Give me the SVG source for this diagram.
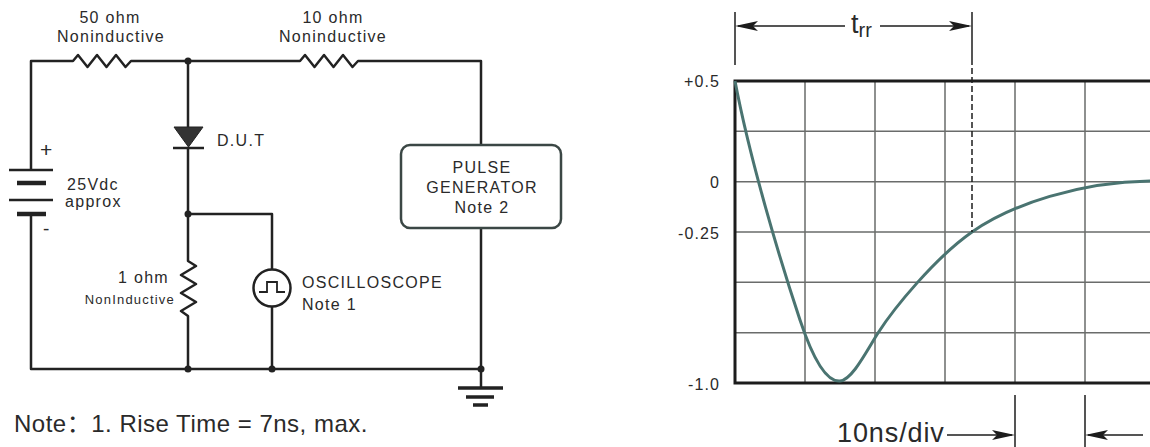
<svg xmlns="http://www.w3.org/2000/svg" width="1150" height="447" viewBox="0 0 1150 447">
<style>
  .w{fill:none;stroke:#222;stroke-width:2.5;stroke-linejoin:round;stroke-linecap:butt}
  .t{font-family:"Liberation Sans",Arial,"Noto Sans CJK SC",sans-serif;fill:#2a2a2a}
  .l15{font-size:16px;letter-spacing:1.3px}
  .l12{font-size:13px;letter-spacing:1.2px}
  .ax{font-size:16px;letter-spacing:1.1px}
  .grid{stroke:#6a6c6b;stroke-width:1.5;fill:none}
  .frame{stroke:#1c1c1c;stroke-width:3;fill:none}
  .thin{stroke:#1c1c1c;stroke-width:1.5;fill:none}
  .dot{fill:#222}
  .ah{fill:#1c1c1c}
</style>
<defs>
  <path id="arR" d="M0,0 L-23,-5 L-18,0 L-23,5 Z"/>
</defs>

<g id="connectors">
  <path class="w" d="M31,170 V61 H73 L78,55 L87.5,67 L97,55 L106.5,67 L116,55 L125.5,67 L131,61 H300 L305,55 L314.5,67 L324,55 L333.5,67 L343,55 L352.5,67 L358,61 H481 V145"/>
  <path class="w" d="M31,214 V369 H481"/>
  <path class="w" d="M481,228 V388"/>
  <path class="w" d="M188,61 V127"/>
  <path class="w" d="M188,147 V261 L196,266 L181,275 L196,284 L181,293 L196,302 L181,311 L188,316 V369"/>
  <path class="w" d="M188,214 H272 V269"/>
  <path class="w" d="M272,307 V369"/>
</g>

<g id="battery">
  <line x1="9" y1="170" x2="53" y2="170" stroke="#222" stroke-width="2.5"/>
  <line x1="17" y1="183" x2="46" y2="183" stroke="#222" stroke-width="4.5"/>
  <line x1="9" y1="200" x2="53" y2="200" stroke="#222" stroke-width="2.5"/>
  <line x1="17" y1="214" x2="46" y2="214" stroke="#222" stroke-width="4.5"/>
  <text class="t" x="40" y="157" font-size="21">+</text>
  <text class="t" x="43" y="235" font-size="19">-</text>
  <text class="t l15" x="67" y="190">25Vdc</text>
  <text class="t l15" x="65" y="207">approx</text>
</g>

<g id="r50">
  <text class="t l15" x="110" y="23" text-anchor="middle">50 ohm</text>
  <text class="t l15" x="111" y="42" text-anchor="middle">Noninductive</text>
</g>

<g id="r10">
  <text class="t l15" x="333" y="23" text-anchor="middle">10 ohm</text>
  <text class="t l15" x="333" y="42" text-anchor="middle">Noninductive</text>
</g>

<g id="dut">
  <path d="M174,127 L203,127 L188.5,147 Z" fill="#333" stroke="#222" stroke-width="1"/>
  <line x1="173" y1="148" x2="204" y2="148" stroke="#222" stroke-width="2.5"/>
  <text class="t l15" x="217" y="146">D.U.T</text>
</g>

<g id="r1">
  <text class="t l15" x="169" y="283" text-anchor="end">1 ohm</text>
  <text class="t l12" x="175" y="304" text-anchor="end">NonInductive</text>
</g>

<g id="oscilloscope">
  <circle cx="272" cy="288" r="18.5" fill="#fff" stroke="#222" stroke-width="2.5"/>
  <path d="M259,292 H267 V282 H277 V292 H285" fill="none" stroke="#222" stroke-width="1.8"/>
  <text class="t l15" x="302" y="288">OSCILLOSCOPE</text>
  <text class="t l15" x="302" y="310">Note 1</text>
</g>

<g id="pulse-generator">
  <rect x="401" y="145" width="160" height="83" rx="9" fill="#fff" stroke="#3b4745" stroke-width="2.5"/>
  <text class="t l15" x="482" y="173" text-anchor="middle">PULSE</text>
  <text class="t l15" x="482" y="193" text-anchor="middle">GENERATOR</text>
  <text class="t l15" x="482" y="213" text-anchor="middle">Note 2</text>
</g>

<g id="junctions">
  <circle class="dot" cx="188" cy="61" r="3.5"/>
  <circle class="dot" cx="188" cy="214" r="3.5"/>
  <circle class="dot" cx="188" cy="369" r="3.5"/>
  <circle class="dot" cx="272" cy="369" r="3.5"/>
  <circle class="dot" cx="481" cy="369" r="3.5"/>
</g>

<g id="ground">
  <line x1="458" y1="388" x2="503" y2="388" stroke="#222" stroke-width="3.5"/>
  <line x1="466" y1="397" x2="494" y2="397" stroke="#222" stroke-width="3.5"/>
  <line x1="473" y1="405" x2="488" y2="405" stroke="#222" stroke-width="3.5"/>
</g>

<g id="note">
  <text class="t" x="14" y="432" font-size="24" letter-spacing="0.5">Note：1. Rise Time = 7ns, max.</text>
</g>

<g id="graph">
  <g class="grid">
    <path d="M805,81 V383 M875,81 V383 M945,81 V383 M1015,81 V383 M1085,81 V383"/>
    <path d="M735,131.3 H1150 M735,181.7 H1150 M735,232 H1150 M735,282.3 H1150 M735,332.7 H1150"/>
  </g>
  <path class="frame" d="M1150,81 H735 V383 H1150"/>
  <path d="M735,81 C750,160 780,260 800,320 C815,365 828,382 840,381 C852,380 866,352 878,333 C894,308 935,258 972,232 C1012,204 1080,182 1150,181" fill="none" stroke="#4a7471" stroke-width="3"/>
  <text class="t ax" x="720" y="87" text-anchor="end">+0.5</text>
  <text class="t ax" x="720" y="188" text-anchor="end">0</text>
  <text class="t ax" x="720" y="239" text-anchor="end">-0.25</text>
  <text class="t ax" x="720" y="390" text-anchor="end">-1.0</text>
</g>

<g id="trr">
  <line class="thin" x1="735" y1="12" x2="735" y2="65"/>
  <line class="thin" x1="972" y1="12" x2="972" y2="65"/>
  <line x1="972" y1="68" x2="972" y2="232" stroke="#1c1c1c" stroke-width="1.5" stroke-dasharray="6,3"/>
  <line class="thin" x1="738" y1="26" x2="845" y2="26"/>
  <line class="thin" x1="880" y1="26" x2="969" y2="26"/>
  <use href="#arR" class="ah" transform="translate(735,26) rotate(180)"/>
  <use href="#arR" class="ah" transform="translate(972,26)"/>
  <text class="t" x="851" y="33" font-size="27">t<tspan font-size="20" dy="4">rr</tspan></text>
</g>

<g id="timebase">
  <line class="thin" x1="1015" y1="395" x2="1015" y2="447"/>
  <line class="thin" x1="1085" y1="395" x2="1085" y2="447"/>
  <line class="thin" x1="947" y1="435" x2="1012" y2="435"/>
  <line class="thin" x1="1088" y1="435" x2="1143" y2="435"/>
  <use href="#arR" class="ah" transform="translate(1015,435)"/>
  <use href="#arR" class="ah" transform="translate(1085,435) rotate(180)"/>
  <text class="t" x="837" y="442" font-size="27" letter-spacing="0.9">10ns/div</text>
</g>
</svg>
